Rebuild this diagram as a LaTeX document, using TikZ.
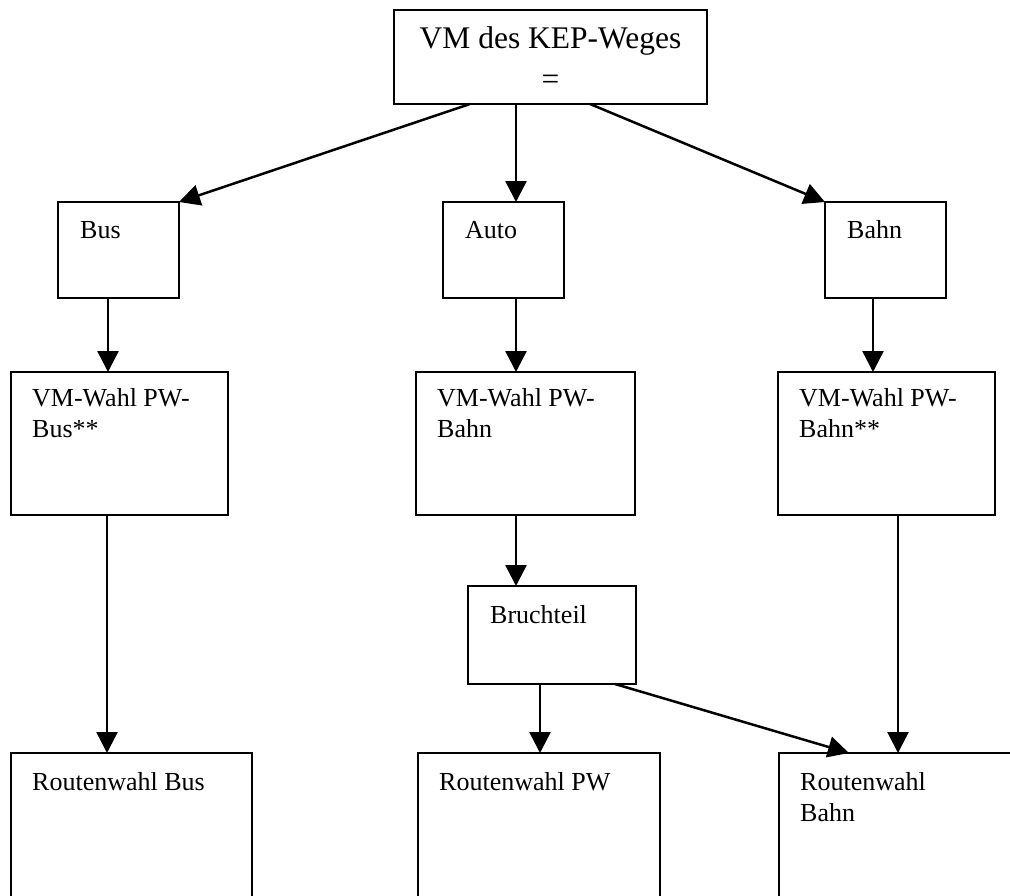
\documentclass[tikz,border=0pt]{standalone}
\usepackage{fontspec}
\setmainfont{Liberation Serif}
\usetikzlibrary{arrows.meta}
\tikzset{
  box/.style={draw, line width=2.5pt, rectangle, inner sep=0pt, outer sep=0pt, anchor=north west},
  lbl/.style={inner sep=0pt, font=\fontsize{26}{31}\selectfont, align=left},
  arr/.style={line width=2.5pt, -{Triangle[length=21pt,width=21pt]}}
}
\begin{document}
\begin{tikzpicture}[x=1pt,y=-1pt]
      \useasboundingbox (0,0) rectangle (1010,895);
      \clip (0,0) rectangle (1010,895);
      \node[box, minimum width=313pt, minimum height=94pt] (K) at (394,10) {};
      \node[box, minimum width=121pt, minimum height=96pt] (bus) at (58,202) {};
      \node[box, minimum width=121pt, minimum height=96pt] (auto) at (443,202) {};
      \node[box, minimum width=121pt, minimum height=96pt] (bahn) at (825,202) {};
      \node[box, minimum width=217pt, minimum height=143pt] (vmbus) at (11,372) {};
      \node[box, minimum width=219pt, minimum height=143pt] (vmpw) at (416,372) {};
      \node[box, minimum width=217pt, minimum height=143pt] (vmbahn) at (778,372) {};
      \node[box, minimum width=168pt, minimum height=98pt] (bruch) at (468,586) {};
      \node[box, minimum width=241pt, minimum height=170pt] (rbus) at (11,753) {};
      \node[box, minimum width=242pt, minimum height=170pt] (rpw) at (418,753) {};
      \node[box, minimum width=241pt, minimum height=170pt] (rbahn) at (779,753) {};
        % Texte
     \node[lbl, font=\fontsize{31.5}{41}\selectfont, align=center, anchor=north] (KT) at ([yshift=-16pt]K.north) {VM des KEP-Weges\\=};
     \node[lbl, anchor=base west] (busT) at ([shift={(22pt,-36pt)}]bus.north west) {Bus};
     \node[lbl, anchor=base west] (autoT) at ([shift={(22pt,-36pt)}]auto.north west) {Auto};
     \node[lbl, anchor=base west] (bahnT) at ([shift={(22pt,-36pt)}]bahn.north west) {Bahn};
     \node[lbl, anchor=north west] (vmbusT) at ([shift={(21pt,-16pt)}]vmbus.north west) {VM-Wahl PW-\\Bus**};
     \node[lbl, anchor=north west] (vmpwT) at ([shift={(21pt,-16pt)}]vmpw.north west) {VM-Wahl PW-\\Bahn};
     \node[lbl, anchor=north west] (vmbahnT) at ([shift={(21pt,-16pt)}]vmbahn.north west) {VM-Wahl PW-\\Bahn**};
     \node[lbl, anchor=base west] (bruchT) at ([shift={(22pt,-37pt)}]bruch.north west) {Bruchteil};
     \node[lbl, anchor=base west] (rbusT) at ([shift={(21pt,-37pt)}]rbus.north west) {Routenwahl Bus};
     \node[lbl, anchor=base west] (rpwT) at ([shift={(21pt,-37pt)}]rpw.north west) {Routenwahl PW};
     \node[lbl, anchor=north west] (rbahnT) at ([shift={(21pt,-19pt)}]rbahn.north west) {Routenwahl\\Bahn};
      \draw[arr] ([xshift=76pt]K.south west) -- (bus.north east);
      \draw[arr] ([xshift=122pt]K.south west) -- ([xshift=73pt]auto.north west);
      \draw[arr] ([xshift=196pt]K.south west) -- (bahn.north west);
      \draw[arr] ([xshift=50pt]bus.south west) -- ([xshift=97pt]vmbus.north west);
      \draw[arr] ([xshift=73pt]auto.south west) -- ([xshift=100pt]vmpw.north west);
      \draw[arr] ([xshift=48pt]bahn.south west) -- ([xshift=95pt]vmbahn.north west);
      \draw[arr] ([xshift=96pt]vmbus.south west) -- ([xshift=96pt]rbus.north west);
      \draw[arr] ([xshift=100pt]vmpw.south west) -- ([xshift=48pt]bruch.north west);
      \draw[arr] ([xshift=120pt]vmbahn.south west) -- ([xshift=119pt]rbahn.north west);
      \draw[arr] ([xshift=72pt]bruch.south west) -- ([xshift=122pt]rpw.north west);
      \draw[arr] ([xshift=147pt]bruch.south west) -- ([xshift=70pt]rbahn.north west);
    \end{tikzpicture}
\end{document}
